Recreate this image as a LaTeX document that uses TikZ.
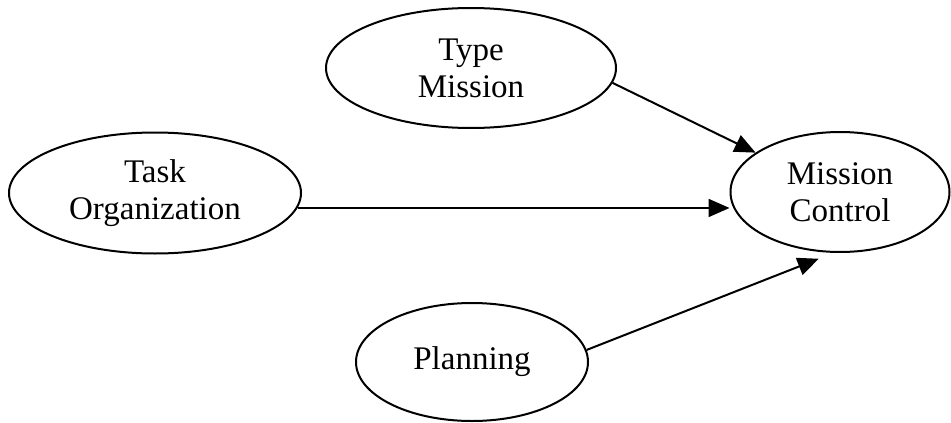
\documentclass[tikz,border=0pt]{standalone}
\usepackage{fontspec}
\setmainfont{Liberation Serif}
\usetikzlibrary{arrows.meta,shapes.geometric}

\tikzset{
  bubble/.style={ellipse, draw, line width=2pt, inner sep=0pt, align=center,
    font=\fontsize{33}{37}\selectfont},
  link/.style={line width=2pt, -{Triangle[length=21pt,width=18pt]}}
}

\begin{document}
\begin{tikzpicture}[x=1pt,y=-1pt]
  \useasboundingbox (0,0) rectangle (951,423);

  % concept bubbles
  \node[bubble, minimum width=290pt, minimum height=120pt] (type) at (471,68) {Type\\Mission};
  \node[bubble, minimum width=292pt, minimum height=121pt] (task) at (155,193) {Task\\Organization};
  \node[bubble, minimum width=219pt, minimum height=120pt] (ctrl) at (840,192) {Mission\\Control};
  \node[bubble, minimum width=232pt, minimum height=118pt] (plan) at (472,362) {Planning};

  % influences on mission control
  \draw[link] (type.-6) -- (ctrl.155);
  \draw[link] (task.-6) -- (task.-6 -| ctrl.west);
  \draw[link, shorten >=16pt] (plan.6) -- (ctrl.-96);
\end{tikzpicture}
\end{document}
